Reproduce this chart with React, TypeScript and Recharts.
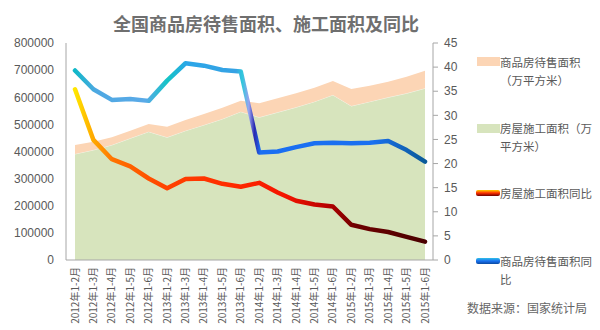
import React from 'react';
import {
    ComposedChart, Area, Line, XAxis, YAxis,
} from 'recharts';

const categories = [
    '2012年1-2月', '2012年1-3月', '2012年1-4月', '2012年1-5月', '2012年1-6月',
    '2013年1-2月', '2013年1-3月', '2013年1-4月', '2013年1-5月', '2013年1-6月',
    '2014年1-2月', '2014年1-3月', '2014年1-4月', '2014年1-5月', '2014年1-6月',
    '2015年1-2月', '2015年1-3月', '2015年1-4月', '2015年1-5月', '2015年1-6月',
];

// 房屋施工面积（万平方米）
const construction = [
    390800, 405500, 424000, 448600, 473000, 452200, 476700, 497700, 519800, 546800,
    526000, 544500, 563000, 583700, 608300, 567700, 583700, 599700, 614500, 632900,
];

// 商品房待售面积（万平方米）
const unsold = [
    33200, 30800, 28200, 28100, 28300, 39300, 39400, 40500, 41800, 40700,
    51600, 51500, 51500, 51600, 51600, 62700, 59000, 57800, 61400, 65100,
];

// 同比 (%)
const constructionYoY = [
    35.4, 24.9, 20.9, 19.4, 16.9, 14.9, 16.8, 16.9, 15.8, 15.2,
    16.0, 14.0, 12.3, 11.5, 11.1, 7.3, 6.4, 5.8, 4.8, 3.8,
];
const unsoldYoY = [
    39.3, 35.4, 33.2, 33.4, 33.0, 37.2, 40.8, 40.3, 39.4, 39.1,
    22.3, 22.5, 23.4, 24.2, 24.3, 24.2, 24.3, 24.7, 22.8, 20.4,
];

const leftTicks = [0, 100000, 200000, 300000, 400000, 500000, 600000, 700000, 800000];
const rightTicks = [0, 5, 10, 15, 20, 25, 30, 35, 40, 45];

const data = categories.map((c, i) => ({
    name: c,
    construction: construction[i],
    unsold: unsold[i],
    constructionYoY: constructionYoY[i],
    unsoldYoY: unsoldYoY[i],
}));

const FONT = '"Noto Sans CJK SC", "Noto Sans", sans-serif';
const AXIS = '#a6a6a6';
const TEXT = '#595959';

const XTick = ({ x, y, payload }: any) => (
    <text
        transform={`translate(${x},${y - 1}) rotate(-90)`}
        textAnchor="end"
        dy="0.35em"
        fontSize={10}
        fill={TEXT}
        fontFamily={FONT}
    >
        {payload.value}
    </text>
);

const legendText: React.CSSProperties = {
    position: 'absolute', left: 500, fontSize: 11.5, color: TEXT, lineHeight: '18px', whiteSpace: 'nowrap',
};

export default function App() {
    return (
        <div style={{ position: 'absolute', left: 0, top: 0, width: 600, height: 330, background: '#fff', fontFamily: FONT }}>
            <div style={{
                position: 'absolute', left: 0, width: 532, top: 10, textAlign: 'center',
                fontSize: 18, fontWeight: 700, color: '#6f6f6f', lineHeight: '26px',
            }}>
                全国商品房待售面积、施工面积及同比
            </div>
            <ComposedChart
                width={600}
                height={330}
                data={data}
                margin={{ top: 43, right: 0, left: 0, bottom: 0 }}
            >
                <defs>
                    <linearGradient id="redGrad" x1="0" y1="0" x2="1" y2="0">
                        <stop offset="0" stopColor="#ffe600" />
                        <stop offset="0.05" stopColor="#ffab00" />
                        <stop offset="0.11" stopColor="#ff7200" />
                        <stop offset="0.25" stopColor="#ff4400" />
                        <stop offset="0.45" stopColor="#ff2a00" />
                        <stop offset="0.6" stopColor="#f41400" />
                        <stop offset="0.72" stopColor="#b80000" />
                        <stop offset="0.8" stopColor="#6e0000" />
                        <stop offset="1" stopColor="#4a0000" />
                    </linearGradient>
                    <linearGradient id="blueGrad" x1="0" y1="0" x2="1" y2="0">
                        <stop offset="0" stopColor="#10b8c8" />
                        <stop offset="0.06" stopColor="#4ea8e2" />
                        <stop offset="0.2" stopColor="#5aaae8" />
                        <stop offset="0.265" stopColor="#14c4c6" />
                        <stop offset="0.32" stopColor="#2ba6e8" />
                        <stop offset="0.46" stopColor="#36a2e4" />
                        <stop offset="0.478" stopColor="#30c8dc" />
                        <stop offset="0.497" stopColor="#9aa2f0" />
                        <stop offset="0.513" stopColor="#2a2ab0" />
                        <stop offset="0.53" stopColor="#1a6ef2" />
                        <stop offset="0.85" stopColor="#1a70f0" />
                        <stop offset="1" stopColor="#0a5a98" />
                    </linearGradient>
                </defs>
                <XAxis
                    dataKey="name"
                    scale="point"
                    padding={{ left: 9, right: 8 }}
                    height={70}
                    interval={0}
                    tickLine={false}
                    axisLine={{ stroke: AXIS }}
                    tick={<XTick />}
                />
                <YAxis
                    yAxisId="left"
                    width={66}
                    domain={[0, 800000]}
                    ticks={leftTicks}
                    tickLine={false}
                    tickMargin={6}
                    axisLine={{ stroke: AXIS }}
                    tick={{ fill: TEXT, fontSize: 12, fontFamily: 'Liberation Sans, sans-serif' }}
                />
                <YAxis
                    yAxisId="right"
                    orientation="right"
                    width={167}
                    domain={[0, 45]}
                    ticks={rightTicks}
                    tickSize={5}
                    tickMargin={6}
                    tickLine={{ stroke: AXIS }}
                    axisLine={{ stroke: AXIS }}
                    tick={{ fill: TEXT, fontSize: 12, fontFamily: 'Liberation Sans, sans-serif' }}
                />
                <Area
                    yAxisId="left"
                    dataKey="construction"
                    stackId="a"
                    type="linear"
                    fill="#d7e4bd"
                    fillOpacity={1}
                    stroke="#f2f5ea"
                    strokeWidth={1}
                    isAnimationActive={false}
                />
                <Area
                    yAxisId="left"
                    dataKey="unsold"
                    stackId="a"
                    type="linear"
                    fill="#fcd5b5"
                    fillOpacity={1}
                    stroke="none"
                    isAnimationActive={false}
                />
                <Line
                    yAxisId="right"
                    dataKey="constructionYoY"
                    type="linear"
                    stroke="url(#redGrad)"
                    strokeWidth={4.5}
                    strokeLinecap="round"
                    strokeLinejoin="round"
                    dot={false}
                    isAnimationActive={false}
                />
                <Line
                    yAxisId="right"
                    dataKey="unsoldYoY"
                    type="linear"
                    stroke="url(#blueGrad)"
                    strokeWidth={4.5}
                    strokeLinecap="round"
                    strokeLinejoin="round"
                    dot={false}
                    isAnimationActive={false}
                />
            </ComposedChart>

            {/* legend */}
            <div style={{ position: 'absolute', left: 477, top: 57, width: 23, height: 9, background: '#fcd5b5' }} />
            <div style={{ ...legendText, top: 53 }}>商品房待售面积<br />（万平方米）</div>

            <div style={{ position: 'absolute', left: 477, top: 124, width: 23, height: 9, background: '#d7e4bd' }} />
            <div style={{ ...legendText, top: 119 }}>房屋施工面积（万<br />平方米）</div>

            <div style={{
                position: 'absolute', left: 476, top: 190, width: 24, height: 6, borderRadius: 2,
                background: 'linear-gradient(to bottom, #ffd000, #ff3000 50%, #6a0000)',
            }} />
            <div style={{ ...legendText, top: 184 }}>房屋施工面积同比</div>

            <div style={{
                position: 'absolute', left: 476, top: 258, width: 24, height: 6, borderRadius: 2,
                background: 'linear-gradient(to bottom, #30c0e8, #1a70f0 50%, #0a4aa0)',
            }} />
            <div style={{ ...legendText, top: 252 }}>商品房待售面积同<br />比</div>

            <div style={{ position: 'absolute', left: 467, top: 299, fontSize: 12, color: '#666', whiteSpace: 'nowrap' }}>
                数据来源：国家统计局
            </div>
        </div>
    );
}
